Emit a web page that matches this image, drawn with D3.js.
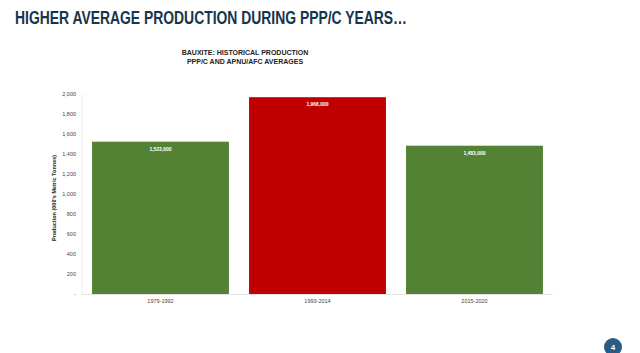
<!DOCTYPE html>
<html><head><meta charset="utf-8">
<script src="https://cdn.jsdelivr.net/npm/d3@7"></script>
<style>body{margin:0;background:#fff;} svg{display:block;font-family:"Liberation Sans",Arial,sans-serif;}</style>
</head><body>
<svg id="c" width="640" height="353"></svg>
<script>
const categories = ["1979-1992", "1993-2014", "2015-2020"];
const values = [1523, 1968, 1483];
const labels = ["1,523,000", "1,968,000", "1,483,000"];
const barColors = ["#548235", "#c00000", "#548235"];
const yTicks = [0, 200, 400, 600, 800, 1000, 1200, 1400, 1600, 1800, 2000];

const svg = d3.select("#c");
const m = {left: 82, right: 553, top: 94, bottom: 294};

svg.append("text").attr("x", 15).attr("y", 24)
  .attr("font-size", 18).attr("font-weight", "bold").attr("fill", "#17354d")
  .attr("textLength", 392).attr("lengthAdjust", "spacingAndGlyphs")
  .text("HIGHER AVERAGE PRODUCTION DURING PPP/C YEARS…");

svg.append("text").attr("x", 245).attr("y", 55).attr("text-anchor", "middle")
  .attr("font-size", 7).attr("font-weight", "bold").attr("fill", "#222")
  .text("BAUXITE: HISTORICAL PRODUCTION");
svg.append("text").attr("x", 245).attr("y", 64).attr("text-anchor", "middle")
  .attr("font-size", 7).attr("font-weight", "bold").attr("fill", "#222")
  .text("PPP/C AND APNU/AFC AVERAGES");

const x = d3.scaleBand().domain(categories).range([m.left, m.right]).paddingInner(0.128).paddingOuter(0.064);
const y = d3.scaleLinear().domain([0, 2000]).range([m.bottom, m.top]);

// axis lines
svg.append("line").attr("x1", m.left).attr("x2", m.left).attr("y1", m.top).attr("y2", m.bottom)
  .attr("stroke", "#eeeeee").attr("stroke-width", 1);
svg.append("line").attr("x1", m.left).attr("x2", m.right).attr("y1", m.bottom + 0.5).attr("y2", m.bottom + 0.5)
  .attr("stroke", "#e6e6e6").attr("stroke-width", 1);

const yAxis = d3.axisLeft(y).tickValues(yTicks).tickSize(0).tickPadding(6)
  .tickFormat(d => d === 0 ? "-" : d3.format(",")(d));
const gy = svg.append("g").attr("transform", `translate(${m.left},0)`).call(yAxis);
gy.select(".domain").remove();
gy.selectAll("text").attr("font-size", 5.5).attr("fill", "#444").attr("font-family", "Liberation Sans, Arial, sans-serif");

svg.append("text").attr("transform", `translate(56,${(m.top + m.bottom) / 2 + 4}) rotate(-90)`)
  .attr("text-anchor", "middle").attr("font-size", 5.5).attr("font-weight", "bold").attr("fill", "#222")
  .text("Production (000's Metric Tonnes)");

svg.selectAll("rect.bar").data(categories).join("rect").attr("class", "bar")
  .attr("x", d => x(d)).attr("width", x.bandwidth())
  .attr("y", (d, i) => y(values[i])).attr("height", (d, i) => y(0) - y(values[i]))
  .attr("fill", (d, i) => barColors[i]);

svg.selectAll("text.val").data(categories).join("text").attr("class", "val")
  .attr("x", d => x(d) + x.bandwidth() / 2).attr("y", (d, i) => y(values[i]) + 9)
  .attr("text-anchor", "middle").attr("font-size", 5).attr("font-weight", "bold").attr("fill", "#fff")
  .text((d, i) => labels[i]);

const xAxis = d3.axisBottom(x).tickSize(0).tickPadding(5);
const gx = svg.append("g").attr("transform", `translate(0,${m.bottom})`).call(xAxis);
gx.select(".domain").remove();
gx.selectAll("text").attr("font-size", 5.5).attr("fill", "#444").attr("font-family", "Liberation Sans, Arial, sans-serif");

svg.append("circle").attr("cx", 613).attr("cy", 347).attr("r", 9).attr("fill", "#2b5b84");
svg.append("text").attr("x", 613).attr("y", 350).attr("text-anchor", "middle")
  .attr("font-size", 8).attr("font-weight", "bold").attr("fill", "#fff").text("4");
</script>
</body></html>
